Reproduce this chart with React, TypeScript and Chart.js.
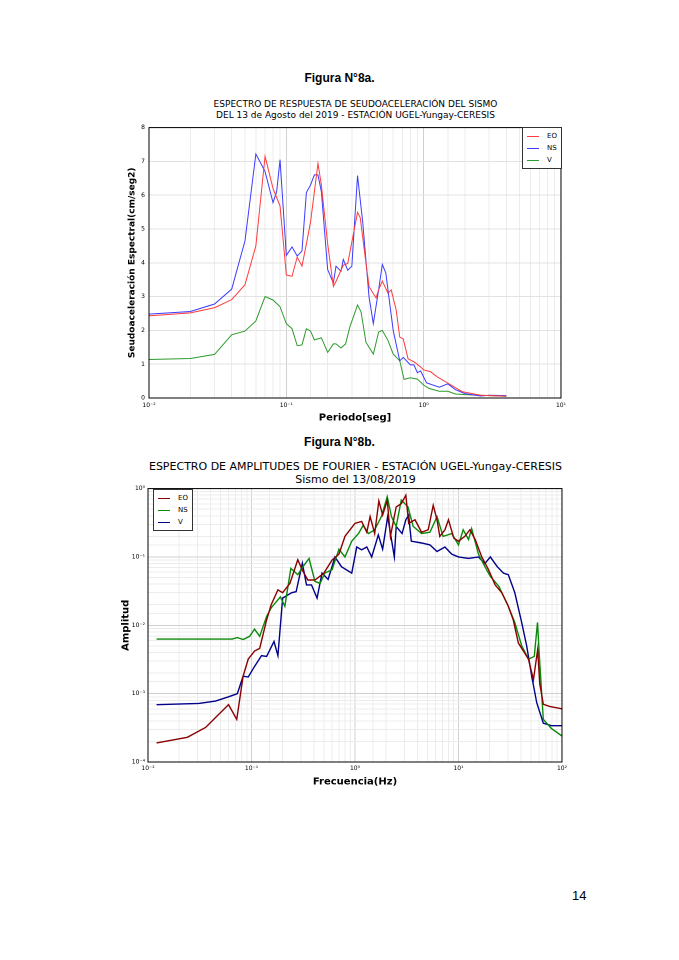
import { useEffect, useRef } from "react";
import { Chart, registerables } from "chart.js";

Chart.register(...registerables);

// Figura 8a: espectro de seudoaceleración (periodo en s, cm/seg2)
const eoPeriod = [0.01, 0.02, 0.03, 0.04, 0.05, 0.06, 0.07, 0.08, 0.09, 0.1, 0.11, 0.12, 0.13, 0.14, 0.15, 0.17, 0.18, 0.2, 0.22, 0.23, 0.26, 0.28, 0.33, 0.345, 0.37, 0.4, 0.45, 0.47, 0.5, 0.55, 0.58, 0.63, 0.67, 0.71, 0.77, 0.85, 0.95, 1.0, 1.12, 1.25, 1.5, 1.9, 2.6, 4.0];
const eoAccel = [2.43, 2.52, 2.67, 2.91, 3.35, 4.5, 7.15, 6.2, 5.68, 3.64, 3.6, 4.17, 3.9, 4.56, 5.2, 6.94, 6.3, 4.56, 3.3, 3.45, 3.93, 3.98, 5.49, 5.34, 4.37, 3.3, 2.96, 3.2, 3.46, 3.1, 3.2, 2.62, 1.8, 1.75, 1.16, 1.07, 0.92, 0.83, 0.78, 0.63, 0.44, 0.19, 0.08, 0.05];
const nsPeriod = [0.01, 0.02, 0.03, 0.04, 0.05, 0.06, 0.07, 0.08, 0.085, 0.09, 0.1, 0.11, 0.12, 0.13, 0.14, 0.15, 0.16, 0.17, 0.18, 0.2, 0.22, 0.23, 0.25, 0.26, 0.28, 0.3, 0.33, 0.36, 0.4, 0.43, 0.47, 0.5, 0.53, 0.6, 0.67, 0.71, 0.8, 0.85, 0.9, 0.95, 1.05, 1.3, 1.5, 1.7, 2.0, 2.6, 3.0, 4.0];
const nsAccel = [2.48, 2.56, 2.78, 3.22, 4.65, 7.22, 6.7, 5.78, 6.1, 7.05, 4.22, 4.47, 4.2, 4.35, 6.08, 6.3, 6.6, 6.6, 6.1, 3.8, 3.4, 3.9, 3.75, 4.1, 3.78, 3.9, 6.58, 5.2, 3.0, 2.2, 3.2, 3.95, 3.7, 2.0, 1.1, 1.2, 0.98, 0.98, 0.75, 0.8, 0.45, 0.32, 0.42, 0.25, 0.13, 0.06, 0.08, 0.07];
const vPeriod = [0.01, 0.02, 0.03, 0.04, 0.05, 0.06, 0.07, 0.08, 0.09, 0.1, 0.11, 0.12, 0.13, 0.14, 0.15, 0.16, 0.18, 0.2, 0.22, 0.23, 0.25, 0.27, 0.29, 0.33, 0.35, 0.38, 0.43, 0.47, 0.5, 0.55, 0.6, 0.67, 0.72, 0.8, 0.9, 1.0, 1.1, 1.3, 1.5, 1.7, 2.0, 3.0, 4.0];
const vAccel = [1.14, 1.17, 1.29, 1.87, 1.98, 2.28, 3.0, 2.9, 2.7, 2.2, 2.05, 1.55, 1.57, 2.05, 1.98, 1.72, 1.78, 1.35, 1.6, 1.6, 1.48, 1.6, 2.1, 2.75, 2.55, 1.65, 1.3, 1.95, 2.0, 1.7, 1.3, 1.1, 0.55, 0.6, 0.56, 0.38, 0.28, 0.2, 0.2, 0.12, 0.1, 0.07, 0.05];

// Figura 8b: espectro de amplitudes de Fourier (Hz)
const eoFreq = [0.0121, 0.024, 0.036, 0.06, 0.072, 0.083, 0.093, 0.107, 0.12, 0.14, 0.155, 0.18, 0.2, 0.235, 0.28, 0.31, 0.35, 0.41, 0.5, 0.6, 0.7, 0.8, 1.0, 1.16, 1.3, 1.4, 1.55, 1.7, 1.85, 2.05, 2.2, 2.5, 2.8, 3.1, 3.3, 3.8, 4.4, 5.1, 5.7, 6.2, 6.6, 7.4, 8, 9, 10, 11.5, 12.9, 14.5, 16.8, 19.5, 22.6, 26.2, 30.3, 33.8, 37.9, 42.4, 47.4, 53, 58.2, 61, 66, 76, 100];
const eoAmp = [1.9e-4, 2.3e-4, 3.2e-4, 6.9e-4, 4.2e-4, 1.8e-3, 3.2e-3, 4.2e-3, 4.6e-3, 0.012, 0.02, 0.033, 0.03, 0.041, 0.091, 0.064, 0.046, 0.046, 0.058, 0.09, 0.11, 0.2, 0.31, 0.33, 0.23, 0.39, 0.22, 0.66, 0.41, 0.67, 0.2, 0.54, 0.6, 0.8, 0.31, 0.35, 0.23, 0.25, 0.57, 0.35, 0.2, 0.25, 0.35, 0.19, 0.17, 0.2, 0.25, 0.18, 0.1, 0.065, 0.039, 0.03, 0.019, 0.012, 5.5e-3, 4.2e-3, 3.2e-3, 1.6e-3, 4.4e-3, 1.4e-3, 7e-4, 6.5e-4, 6e-4];
const nsFreq = [0.0121, 0.065, 0.073, 0.083, 0.096, 0.107, 0.12, 0.14, 0.155, 0.19, 0.21, 0.24, 0.28, 0.31, 0.36, 0.41, 0.46, 0.51, 0.6, 0.7, 0.8, 0.93, 1.08, 1.2, 1.35, 1.55, 1.8, 2.05, 2.25, 2.5, 2.8, 3.25, 3.65, 4.4, 5.3, 6.2, 7.1, 8.6, 10, 11.1, 12.5, 13.4, 15.6, 18, 20.3, 24.6, 30.3, 35, 40.8, 47.4, 54, 58, 61, 66, 79, 100];
const nsAmp = [6.3e-3, 6.3e-3, 6.6e-3, 6.2e-3, 6.9e-3, 8.8e-3, 6.9e-3, 0.0135, 0.018, 0.026, 0.019, 0.068, 0.055, 0.07, 0.095, 0.044, 0.041, 0.058, 0.065, 0.13, 0.1, 0.17, 0.22, 0.29, 0.22, 0.25, 0.39, 0.76, 0.39, 0.28, 0.68, 0.54, 0.28, 0.22, 0.23, 0.39, 0.2, 0.22, 0.15, 0.25, 0.18, 0.26, 0.11, 0.072, 0.052, 0.037, 0.019, 0.011, 5e-3, 3.2e-3, 3.5e-3, 0.011, 2.8e-3, 4.2e-4, 3.1e-4, 2.4e-4];
const vFreq = [0.0121, 0.031, 0.045, 0.06, 0.073, 0.083, 0.093, 0.107, 0.125, 0.14, 0.165, 0.18, 0.2, 0.245, 0.27, 0.31, 0.34, 0.38, 0.43, 0.48, 0.55, 0.64, 0.74, 0.93, 1.04, 1.16, 1.3, 1.45, 1.68, 1.85, 2.07, 2.4, 2.5, 2.85, 3.1, 3.3, 3.5, 4.4, 5.3, 6.2, 7.4, 8.6, 10, 12.5, 15.6, 18, 20.3, 23.7, 27.2, 30.3, 35, 40.8, 45.6, 51, 57, 66, 79, 100];
const vAmp = [6.9e-4, 7.2e-4, 7.8e-4, 9e-4, 1.0e-3, 1.8e-3, 1.75e-3, 2.5e-3, 3.6e-3, 3.5e-3, 5.8e-3, 3.6e-3, 0.025, 0.03, 0.031, 0.081, 0.039, 0.039, 0.025, 0.058, 0.047, 0.1, 0.072, 0.058, 0.14, 0.127, 0.14, 0.1, 0.21, 0.13, 0.39, 0.1, 0.28, 0.22, 0.35, 0.41, 0.17, 0.16, 0.15, 0.12, 0.14, 0.11, 0.1, 0.095, 0.1, 0.08, 0.1, 0.072, 0.058, 0.055, 0.03, 0.011, 5e-3, 1.8e-3, 7.4e-4, 3.7e-4, 3.4e-4, 3.4e-4];

const FONT = "'DejaVu Sans', sans-serif";
const SUP: Record<string, string> = { "-": "⁻", "0": "⁰", "1": "¹", "2": "²", "3": "³", "4": "⁴" };

const pts = (xs: number[], ys: number[]) => xs.map((x, i) => ({ x, y: ys[i] }));
const powLabel = (v: number) => {
  const e = Math.log10(v);
  if (Math.abs(e - Math.round(e)) > 1e-6) return "";
  return "10" + String(Math.round(e)).split("").map((c) => SUP[c]).join("");
};
const frame = {
  id: "frame",
  afterDatasetsDraw(chart: Chart) {
    const { ctx, chartArea: a } = chart;
    ctx.save();
    ctx.strokeStyle = "#000";
    ctx.lineWidth = 1;
    ctx.strokeRect(a.left, a.top, a.right - a.left, a.bottom - a.top);
    ctx.restore();
  },
};
const minorGrid = (ctx: any) => (powLabel(ctx.tick?.value) ? "#d0d0d0" : "#ececec");

const abs = (l: number, t: number, extra: any = {}) => ({ position: "absolute" as const, left: l, top: t, ...extra });

const LegendBox = ({ l, t, items }: { l: number; t: number; items: [string, string][] }) => (
  <div style={abs(l, t, { border: "1px solid #333", background: "#fff", padding: "2px 4px", font: `7px ${FONT}`, lineHeight: "12px" })}>
    {items.map(([lab, col]) => (
      <div key={lab} style={{ display: "flex", alignItems: "center" }}>
        <span style={{ display: "inline-block", width: 12, height: 0, borderTop: `1.5px solid ${col}`, marginRight: 8 }} />
        {lab}
      </div>
    ))}
  </div>
);

export default function App() {
  const topRef = useRef<HTMLCanvasElement | null>(null);
  const botRef = useRef<HTMLCanvasElement | null>(null);

  useEffect(() => {
    const tickFont = { size: 6, family: FONT };
    const line = (label: string, data: any, color: string, w: number) => ({
      label, data, borderColor: color, backgroundColor: color, borderWidth: w, pointRadius: 0, tension: 0, fill: false,
    });

    const top = new Chart(topRef.current!, {
      type: "line",
      data: {
        datasets: [
          line("EO", pts(eoPeriod, eoAccel), "#ff3b3b", 1),
          line("NS", pts(nsPeriod, nsAccel), "#3b3bff", 1),
          line("V", pts(vPeriod, vAccel), "#2e9a2e", 1),
        ],
      },
      options: {
        animation: false, responsive: false, devicePixelRatio: 2,
        layout: { padding: { top: 4, right: 8, left: 0, bottom: 0 } },
        plugins: { legend: { display: false }, tooltip: { enabled: false } },
        scales: {
          x: {
            type: "logarithmic", min: 0.01, max: 10,
            afterFit: (s: any) => { s.height = 26; },
            ticks: { font: tickFont, color: "#000", autoSkip: false, maxRotation: 0, padding: 4, callback: (v: any) => powLabel(Number(v)) },
            grid: { color: minorGrid, drawTicks: false },
            title: { display: true, text: "Periodo[seg]", font: { size: 10, weight: "bold", family: FONT }, color: "#000", padding: 0 },
          },
          y: {
            min: 0, max: 8,
            afterFit: (s: any) => { s.width = 22; },
            ticks: { stepSize: 1, font: tickFont, color: "#000", padding: 4, autoSkip: false },
            grid: { color: "#e2e2e2", drawTicks: false },
            title: { display: true, text: "Seudoaceleración Espectral(cm/seg2)", font: { size: 9, weight: "bold", family: FONT }, color: "#000", padding: 0 },
          },
        },
      },
      plugins: [frame],
    });

    const bot = new Chart(botRef.current!, {
      type: "line",
      data: {
        datasets: [
          line("EO", pts(eoFreq, eoAmp), "#8b0000", 1.4),
          line("NS", pts(nsFreq, nsAmp), "#0a8a0a", 1.4),
          line("V", pts(vFreq, vAmp), "#00008b", 1.4),
        ],
      },
      options: {
        animation: false, responsive: false, devicePixelRatio: 2,
        layout: { padding: { top: 5, right: 8, left: 0, bottom: 0 } },
        plugins: { legend: { display: false }, tooltip: { enabled: false } },
        scales: {
          x: {
            type: "logarithmic", min: 0.01, max: 100,
            afterFit: (s: any) => { s.height = 26; },
            ticks: { font: tickFont, color: "#000", autoSkip: false, maxRotation: 0, padding: 3, callback: (v: any) => powLabel(Number(v)) },
            grid: { color: minorGrid, drawTicks: false },
            title: { display: true, text: "Frecuencia(Hz)", font: { size: 10, weight: "bold", family: FONT }, color: "#000", padding: 0 },
          },
          y: {
            type: "logarithmic", min: 1e-4, max: 1,
            afterFit: (s: any) => { s.width = 28; },
            ticks: { font: tickFont, color: "#000", autoSkip: false, padding: 3, callback: (v: any) => powLabel(Number(v)) },
            grid: { color: minorGrid, drawTicks: false },
            title: { display: true, text: "Amplitud", font: { size: 10, weight: "bold", family: FONT }, color: "#000", padding: 0 },
          },
        },
      },
      plugins: [frame],
    });

    return () => { top.destroy(); bot.destroy(); };
  }, []);

  const head = { font: "bold 12px 'Liberation Sans', Arial, sans-serif", width: 679, textAlign: "center" as const };
  const ttl = (size: number) => ({ font: `${size}px ${FONT}`, width: 679, textAlign: "center" as const, lineHeight: `${size + 2}px`, left: 16 });

  return (
    <div style={abs(0, 0, { width: 679, height: 960, background: "#fff", overflow: "hidden" })}>
      <div style={abs(0, 71, head)}>Figura N°8a.</div>
      <div style={abs(16, 99, ttl(9))}>
        ESPECTRO DE RESPUESTA DE SEUDOACELERACIÓN DEL SISMO<br />DEL 13 de Agosto del 2019 - ESTACIÓN UGEL-Yungay-CERESIS
      </div>
      <canvas ref={topRef} width={443} height={304} style={abs(127, 120, { width: 443, height: 304 })} />
      <LegendBox l={522} t={127} items={[["EO", "#ff3b3b"], ["NS", "#3b3bff"], ["V", "#2e9a2e"]]} />

      <div style={abs(0, 435, head)}>Figura N°8b.</div>
      <div style={abs(16, 460, ttl(11))}>
        ESPECTRO DE AMPLITUDES DE FOURIER - ESTACIÓN UGEL-Yungay-CERESIS<br />Sismo del 13/08/2019
      </div>
      <canvas ref={botRef} width={450} height={306} style={abs(120, 482, { width: 450, height: 306 })} />
      <LegendBox l={153} t={489} items={[["EO", "#8b0000"], ["NS", "#0a8a0a"], ["V", "#00008b"]]} />

      <div style={abs(572, 888, { font: "13px 'Liberation Sans', Arial, sans-serif" })}>14</div>
    </div>
  );
}
